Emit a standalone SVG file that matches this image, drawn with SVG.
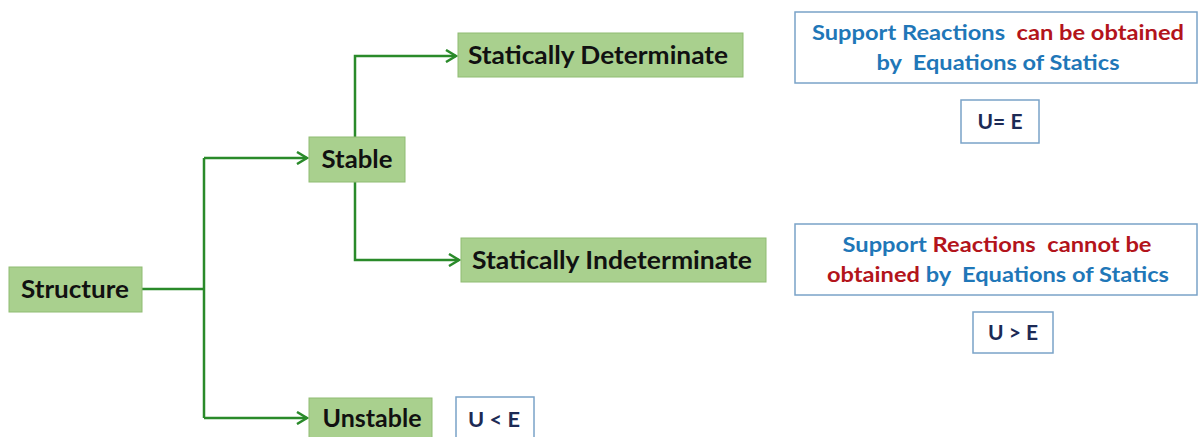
<svg xmlns="http://www.w3.org/2000/svg" width="1198" height="437" viewBox="0 0 1198 437">
<style>
text{white-space:pre}
.g{fill:#a9d08e;stroke:#8fbc72;stroke-width:1}
.gt{font-family:Lato,"Liberation Sans",sans-serif;font-weight:bold;font-size:25px;fill:#111;text-anchor:middle}
.b{fill:#fff;stroke:#7aa3c8;stroke-width:1.5}
.bt{font-family:Lato,"Liberation Sans",sans-serif;font-weight:bold;font-size:20px;text-anchor:middle}
.bl{fill:#1f77b8}
.rd{fill:#b3141b}
.ue{font-family:Lato,"Liberation Sans",sans-serif;font-weight:bold;font-size:21px;fill:#1c2a55;text-anchor:middle}
.c{fill:none;stroke:#2a8a2a;stroke-width:2.5}
</style>
<defs>
<marker id="ah" markerWidth="14" markerHeight="14" refX="11" refY="7" orient="auto" markerUnits="userSpaceOnUse">
<path d="M1,1 L11,7 L1,13" fill="none" stroke="#2a8a2a" stroke-width="2.5"/>
</marker>
</defs>
<g id="connectors">
<path class="c" d="M142,289 H204"/>
<path class="c" d="M204,158 V418"/>
<path class="c" d="M204,158 H307" marker-end="url(#ah)"/>
<path class="c" d="M204,418 H307" marker-end="url(#ah)"/>
<path class="c" d="M355,137 V56 H456" marker-end="url(#ah)"/>
<path class="c" d="M355,182 V260 H459" marker-end="url(#ah)"/>
</g>
<g id="structure">
<rect class="g" x="9" y="267" width="133" height="45"/>
<text class="gt" x="75" y="298" textLength="108" lengthAdjust="spacingAndGlyphs">Structure</text>
</g>
<g id="stable">
<rect class="g" x="309" y="137" width="96" height="45"/>
<text class="gt" x="357" y="168" textLength="71" lengthAdjust="spacingAndGlyphs">Stable</text>
</g>
<g id="det">
<rect class="g" x="458" y="33" width="285" height="44"/>
<text class="gt" x="598" y="64" textLength="260" lengthAdjust="spacingAndGlyphs">Statically Determinate</text>
</g>
<g id="indet">
<rect class="g" x="461" y="238" width="305" height="44"/>
<text class="gt" x="612" y="269" textLength="280" lengthAdjust="spacingAndGlyphs">Statically Indeterminate</text>
</g>
<g id="unstable">
<rect class="g" x="309" y="398" width="123" height="45"/>
<text class="gt" x="372" y="427" textLength="99" lengthAdjust="spacingAndGlyphs">Unstable</text>
</g>
<g id="ult">
<rect class="b" x="456" y="397" width="78" height="46"/>
<text class="ue" x="494" y="427" textLength="52" lengthAdjust="spacingAndGlyphs">U &lt; E</text>
</g>
<g id="note1">
<rect class="b" x="795" y="12" width="402" height="71"/>
<text class="bt" x="998" y="40" textLength="372" lengthAdjust="spacingAndGlyphs"><tspan class="bl">Support Reactions </tspan><tspan class="rd"> can be obtained</tspan></text>
<text class="bt" x="998" y="70" textLength="243" lengthAdjust="spacingAndGlyphs"><tspan class="bl">by  Equations of Statics</tspan></text>
</g>
<g id="ueq">
<rect class="b" x="961" y="100" width="78" height="43"/>
<text class="ue" x="1000" y="129">U= E</text>
</g>
<g id="note2">
<rect class="b" x="795" y="224" width="402" height="71"/>
<text class="bt" x="997" y="252" textLength="309" lengthAdjust="spacingAndGlyphs"><tspan class="bl">Support </tspan><tspan class="rd">Reactions  cannot be</tspan></text>
<text class="bt" x="998" y="282" textLength="342" lengthAdjust="spacingAndGlyphs"><tspan class="rd">obtained </tspan><tspan class="bl">by  Equations of Statics</tspan></text>
</g>
<g id="ugt">
<rect class="b" x="973" y="312" width="80" height="41"/>
<text class="ue" x="1013" y="340">U &gt; E</text>
</g>
</svg>
